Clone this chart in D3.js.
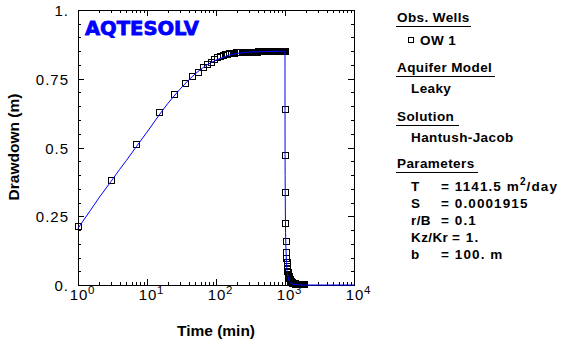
<!DOCTYPE html>
<html><head><meta charset="utf-8">
<script src="https://cdn.jsdelivr.net/npm/d3@7"></script>
<style>body{margin:0;background:#fff}svg{display:block}</style></head>
<body><svg id="c" width="562" height="341"></svg>
<script>
// ---- data ----
const pumpTime = [1,3,7,15,25,35,45,55,65,75,85,95,105,115,125,135,145,155,165,175,185,195,
  205,215,225,235,245,255,265,275,285,295,305,315,325,335,345,355,365,375,385,395,
  405,415,425,435,445,455,465,475,485,495,505,515,525,535,545,555,565,575,585,595,
  605,615,625,635,645,655,665,675,685,695,705,715,725,735,745,755,765,775,785,795,
  805,815,825,835,845,855,865,875,885,895,905,915,925,935,945,955,965,975,985,995];
const pumpDrawdown = [0.214,0.381,0.512,0.628,0.694,0.734,0.760,0.776,0.792,0.803,0.811,0.822,
  0.828,0.832,0.835,0.839,0.841,0.842,0.843,0.844,0.845,0.846,
  0.846,0.847,0.847,0.847,0.848,0.848,0.848,0.848,0.849,0.849,0.849,0.849,0.849,0.849,0.849,0.849,0.849,0.849,0.849,0.849,
  0.850,0.850,0.850,0.850,0.850,0.850,0.850,0.850,0.850,0.850,0.850,0.850,0.850,0.850,0.850,0.850,0.850,0.850,0.850,0.850,
  0.850,0.850,0.850,0.850,0.850,0.850,0.850,0.850,0.850,0.850,0.850,0.850,0.850,0.850,0.850,0.850,0.850,0.850,0.850,0.850,
  0.850,0.850,0.850,0.850,0.850,0.850,0.850,0.850,0.850,0.850,0.850,0.850,0.850,0.850,0.850,0.850,0.850,0.850,0.850,0.850];
const recTime = [1001,1003,1007,1015,1025,1035,1045,1055,1065,1075,1085,1095,
  1105,1115,1125,1135,1145,1155,1165,1175,1185,1195,1205,1215,1225,1235,1245,1255,1265,1275,1285,1295,
  1305,1315,1325,1335,1345,1355,1365,1375,1385,1395,1405,1415,1425,1435,1445,1455,1465,1475,1485,1495,
  1505,1515,1525,1535,1545,1555,1565,1575,1585,1595,1605,1615,1625,1635,1645,1655,1665,1675,1685,1695,
  1705,1715,1725,1735,1745,1755,1765,1775,1785,1795,1805,1815,1825,1835,1845,1855,1865,1875,1885,1895,1905,1915];
const recDrawdown = [0.639,0.473,0.337,0.224,0.159,0.121,0.098,0.082,0.070,0.060,0.052,0.046,
  0.041,0.036,0.032,0.029,0.026,0.024,0.022,0.020,0.018,0.016,0.015,0.014,0.013,0.012,0.011,0.010,0.010,0.009,0.009,0.008,
  0.008,0.007,0.007,0.007,0.006,0.006,0.006,0.006,0.005,0.005,0.005,0.005,0.005,0.005,0.004,0.004,0.004,0.004,0.004,0.004,
  0.004,0.004,0.004,0.004,0.004,0.004,0.004,0.004,0.004,0.004,0.003,0.003,0.003,0.003,0.003,0.003,0.003,0.003,0.003,0.003,
  0.003,0.003,0.003,0.003,0.003,0.003,0.003,0.003,0.003,0.003,0.003,0.003,0.003,0.003,0.003,0.003,0.003,0.003,0.003,0.003,0.003,0.003];
const fitTime = [1,1.5,2,3,4,5,7,10,15,20,30,40,50,70,100,150,200,300,500,1000,
  1000.3,1000.5,1001,1002,1003,1005,1007,1010,1015,1020,1030,1050,1070,1100,1150,1200,1300,1500,2000,10000];
const fitDrawdown = [0.206,0.270,0.316,0.376,0.420,0.452,0.503,0.556,0.618,0.660,0.712,0.745,0.768,0.797,0.818,0.835,0.842,0.847,0.849,0.850,
  0.787,0.730,0.635,0.535,0.474,0.398,0.347,0.294,0.232,0.190,0.138,0.082,0.053,0.032,0.015,0.008,0.003,0.001,0,0];
const yTickValues = [0,0.25,0.5,0.75,1];
const yTickLabels = ["0.","0.25","0.5","0.75","1."];
const xDecades = [0,1,2,3,4];
const legendWell = "OW 1";
const paramNames = ["T","S","r/B","Kz/Kr","b"];
const paramValues = ["= 1141.5 m","= 0.0001915","= 0.1","= 1.","= 100. m"];

// ---- drawing ----
const svg = d3.select("#c");
const L = 78, R = 354, T = 10, B = 285;
const x = d3.scaleLog().domain([1, 10000]).range([L, R]);
const y = d3.scaleLinear().domain([0, 1]).range([B, T]);
const font = "'Liberation Sans', Arial, sans-serif";

// ticks
const minorX = [];
xDecades.slice(0, -1).forEach(d => { for (let k = 2; k <= 9; k++) minorX.push(k * Math.pow(10, d)); });
const majorX = xDecades.map(d => Math.pow(10, d));
const minorY = d3.range(0, 21).map(i => i * 0.05);
const tk = svg.append("g").attr("stroke", "#000").attr("stroke-width", 1).attr("shape-rendering", "crispEdges");
minorX.forEach(v => {
  const px = Math.round(x(v)) + 0.5;
  tk.append("line").attr("x1", px).attr("x2", px).attr("y1", B).attr("y2", B - 3);
  tk.append("line").attr("x1", px).attr("x2", px).attr("y1", T).attr("y2", T + 3);
});
majorX.forEach(v => {
  const px = Math.round(x(v)) + 0.5;
  tk.append("line").attr("x1", px).attr("x2", px).attr("y1", B).attr("y2", B - 6);
  tk.append("line").attr("x1", px).attr("x2", px).attr("y1", T).attr("y2", T + 6);
});
minorY.forEach(v => {
  const py = Math.round(y(v)) + 0.5;
  const len = (Math.abs(v / 0.25 - Math.round(v / 0.25)) < 1e-6) ? 6 : 3;
  tk.append("line").attr("x1", L).attr("x2", L + len).attr("y1", py).attr("y2", py);
  tk.append("line").attr("x1", R).attr("x2", R - len).attr("y1", py).attr("y2", py);
});
svg.append("rect").attr("x", L + 0.5).attr("y", T + 0.5).attr("width", R - L).attr("height", B - T)
  .attr("fill", "none").attr("stroke", "#000").attr("shape-rendering", "crispEdges");

// y tick labels
svg.append("g").selectAll("text").data(yTickValues).join("text")
  .attr("x", 69).attr("y", d => y(d) + 6).attr("text-anchor", "end")
  .attr("font-family", font).attr("font-size", 15).attr("letter-spacing", 1)
  .text((d, i) => yTickLabels[i]);
// x tick labels 10^n
const xl = svg.append("g").attr("font-family", font);
xDecades.forEach(d => {
  const px = x(Math.pow(10, d));
  xl.append("text").attr("x", px + 1).attr("y", 300).attr("text-anchor", "middle")
    .attr("font-size", 15).attr("letter-spacing", 1).text("10");
  xl.append("text").attr("x", px + 10).attr("y", 294).attr("font-size", 11.5).text(String(d));
});

// axis titles
svg.append("text").attr("x", 216).attr("y", 336).attr("text-anchor", "middle")
  .attr("font-family", font).attr("font-weight", "bold").attr("font-size", 15.5).text("Time (min)");
svg.append("text").attr("transform", "translate(19,147) rotate(-90)").attr("text-anchor", "middle")
  .attr("font-family", font).attr("font-weight", "bold").attr("font-size", 15.5).text("Drawdown (m)");

// logo
svg.append("text").attr("x", 85).attr("y", 35).attr("font-family", "'DejaVu Sans', sans-serif")
  .attr("font-weight", "bold").attr("font-size", 20).attr("fill", "#0000ff")
  .attr("stroke", "#0000ff").attr("stroke-width", 0.8)
  .attr("textLength", 114).attr("lengthAdjust", "spacingAndGlyphs").text("AQTESOLV");

// observation squares
const obs = pumpTime.map((t, i) => [t, pumpDrawdown[i]])
  .concat(recTime.map((t, i) => [t, recDrawdown[i]]));
svg.append("g").selectAll("rect").data(obs).join("rect")
  .attr("x", d => Math.round(x(d[0])) - 3 + 0.5).attr("y", d => Math.round(y(d[1])) - 3 + 0.5)
  .attr("width", 6).attr("height", 6).attr("fill", "none").attr("stroke", "#000").attr("stroke-width", 1);

// fitted curve
const line = d3.line().x(d => x(d[0])).y(d => y(d[1]));
svg.append("path").datum(fitTime.map((t, i) => [t, fitDrawdown[i]]))
  .attr("d", line).attr("fill", "none").attr("stroke", "#0000ff").attr("stroke-width", 1);

// legend / info panel
const lg = svg.append("g").attr("font-family", font).attr("font-weight", "bold")
  .attr("font-size", 13.5).attr("letter-spacing", 0.4).attr("fill", "#000");
function heading(txt, yb, w) {
  lg.append("text").attr("x", 397).attr("y", yb).text(txt);
  lg.append("line").attr("x1", 396).attr("x2", 396 + w).attr("y1", yb + 4.5).attr("y2", yb + 4.5)
    .attr("stroke", "#000").attr("stroke-width", 1).attr("shape-rendering", "crispEdges");
}
heading("Obs. Wells", 22, 75);
lg.append("rect").attr("x", 408.5).attr("y", 37.5).attr("width", 5).attr("height", 5)
  .attr("fill", "none").attr("stroke", "#000");
lg.append("text").attr("x", 420).attr("y", 45).text(legendWell);
heading("Aquifer Model", 72, 99);
lg.append("text").attr("x", 411).attr("y", 93).text("Leaky");
heading("Solution", 121, 63);
lg.append("text").attr("x", 411).attr("y", 142).text("Hantush-Jacob");
heading("Parameters", 168, 82);
paramNames.forEach((n, i) => {
  const yb = 191 + i * 17;
  lg.append("text").attr("x", 411).attr("y", yb).text(n);
  const vx = n.length > 3 ? 452 : 441;
  const t = lg.append("text").attr("x", vx).attr("y", yb).attr("letter-spacing", 1.1).text(paramValues[i]);
  if (i === 0) {
    t.append("tspan").attr("dy", -6).attr("font-size", 10).text("2");
    t.append("tspan").attr("dy", 6).text("/day");
  }
});
</script></body></html>
